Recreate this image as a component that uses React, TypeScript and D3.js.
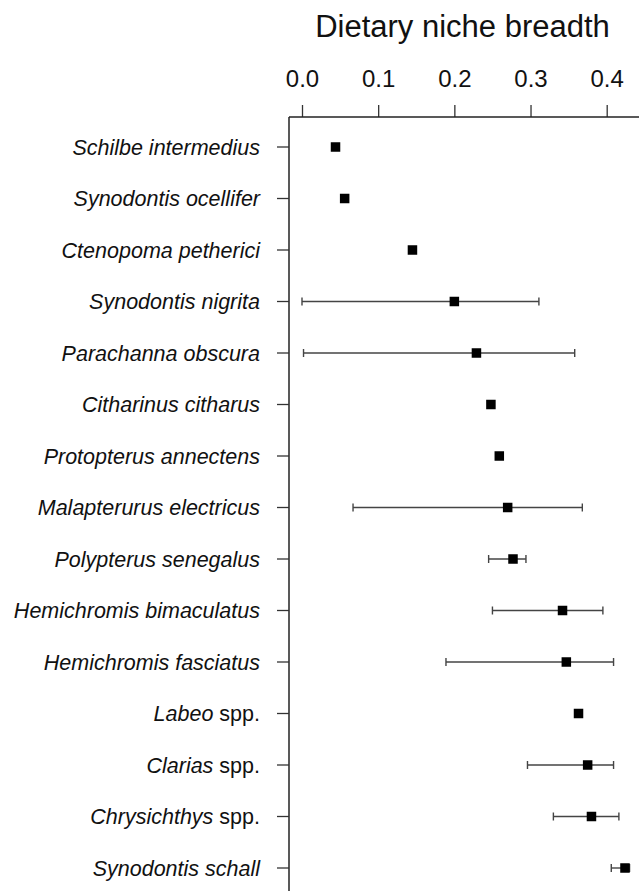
import React, { useEffect, useRef } from "react";
import * as d3 from "d3";

const species = [
  "Schilbe intermedius",
  "Synodontis ocellifer",
  "Ctenopoma petherici",
  "Synodontis nigrita",
  "Parachanna obscura",
  "Citharinus citharus",
  "Protopterus annectens",
  "Malapterurus electricus",
  "Polypterus senegalus",
  "Hemichromis bimaculatus",
  "Hemichromis fasciatus",
  "Labeo spp.",
  "Clarias spp.",
  "Chrysichthys spp.",
  "Synodontis schall",
];
const means = [0.044, 0.056, 0.145, 0.2, 0.229, 0.248, 0.259, 0.27, 0.277, 0.342, 0.347, 0.363, 0.375, 0.38, 0.424];
const lower = [null, null, null, 0.0, 0.002, null, null, 0.067, 0.245, 0.25, 0.189, null, 0.296, 0.33, 0.406];
const upper = [null, null, null, 0.311, 0.358, null, null, 0.368, 0.294, 0.395, 0.409, null, 0.409, 0.416, 0.43];
const xTicks = [0, 0.1, 0.2, 0.3, 0.4];

const W = 639;
const H = 891;

const App = () => {
  const ref = useRef<SVGSVGElement>(null);

  useEffect(() => {
    const svg = d3.select(ref.current);
    svg.selectAll("*").remove();

    const font = "Liberation Sans, Arial, Helvetica, sans-serif";
    const axisX = 289;
    const axisY = 117;

    const x = d3.scaleLinear().domain([0, 0.4]).range([302, 606.7]);
    const y = d3.scalePoint<string>().domain(species).range([147, 868]);

    // title
    svg.append("text")
      .attr("x", 462.5)
      .attr("y", 37)
      .attr("text-anchor", "middle")
      .style("font-family", font)
      .style("font-size", "31px")
      .attr("fill", "#111")
      .text("Dietary niche breadth");

    // top axis
    const top = svg.append("g").attr("transform", `translate(0,${axisY})`);
    top.call(
      d3.axisTop(x)
        .tickValues(xTicks)
        .tickFormat(d3.format(".1f"))
        .tickSize(12)
        .tickSizeOuter(0)
        .tickPadding(18)
    );
    top.select(".domain").remove();
    top.selectAll("line").attr("stroke", "#333").attr("stroke-width", 1.3);
    top.selectAll("text")
      .style("font-family", font)
      .style("font-size", "24px")
      .attr("fill", "#111");

    // box lines
    svg.append("line")
      .attr("x1", axisX).attr("x2", W)
      .attr("y1", axisY).attr("y2", axisY)
      .attr("stroke", "#222").attr("stroke-width", 1.5);
    svg.append("line")
      .attr("x1", axisX).attr("x2", axisX)
      .attr("y1", axisY).attr("y2", H)
      .attr("stroke", "#222").attr("stroke-width", 1.5);

    // left ticks
    svg.append("g")
      .selectAll("line")
      .data(species)
      .join("line")
      .attr("x1", axisX - 12).attr("x2", axisX)
      .attr("y1", (d) => y(d)!).attr("y2", (d) => y(d)!)
      .attr("stroke", "#333").attr("stroke-width", 1.3);

    // labels
    const labels = svg.append("g")
      .selectAll("text")
      .data(species)
      .join("text")
      .attr("x", 260)
      .attr("y", (d) => y(d)! + 7.5)
      .attr("text-anchor", "end")
      .style("font-family", font)
      .style("font-size", "21.5px")
      .attr("fill", "#111");
    labels.each(function (d) {
      const t = d3.select(this);
      if (d.endsWith(" spp.")) {
        t.append("tspan").style("font-style", "italic").text(d.replace(" spp.", ""));
        t.append("tspan").text(" spp.");
      } else {
        t.append("tspan").style("font-style", "italic").text(d);
      }
    });

    // error bars
    const idx = d3.range(species.length).filter((i) => lower[i] != null);
    const eb = svg.append("g").attr("stroke", "#444").attr("stroke-width", 1.4);
    eb.selectAll(".bar")
      .data(idx)
      .join("line")
      .attr("x1", (i) => x(lower[i]!))
      .attr("x2", (i) => x(upper[i]!))
      .attr("y1", (i) => y(species[i])!)
      .attr("y2", (i) => y(species[i])!);
    eb.selectAll(".capL")
      .data(idx)
      .join("line")
      .attr("x1", (i) => x(lower[i]!))
      .attr("x2", (i) => x(lower[i]!))
      .attr("y1", (i) => y(species[i])! - 4)
      .attr("y2", (i) => y(species[i])! + 4);
    eb.selectAll(".capR")
      .data(idx)
      .join("line")
      .attr("x1", (i) => x(upper[i]!))
      .attr("x2", (i) => x(upper[i]!))
      .attr("y1", (i) => y(species[i])! - 4)
      .attr("y2", (i) => y(species[i])! + 4);

    // points
    const s = 9.5;
    svg.append("g")
      .selectAll("rect")
      .data(means)
      .join("rect")
      .attr("x", (d) => x(d) - s / 2)
      .attr("y", (d, i) => y(species[i])! - s / 2)
      .attr("width", s)
      .attr("height", s)
      .attr("fill", "#000");
  }, []);

  return (
    <svg
      ref={ref}
      width={W}
      height={H}
      style={{ position: "absolute", left: 0, top: 0, background: "#fff" }}
    ></svg>
  );
};

export default App;
